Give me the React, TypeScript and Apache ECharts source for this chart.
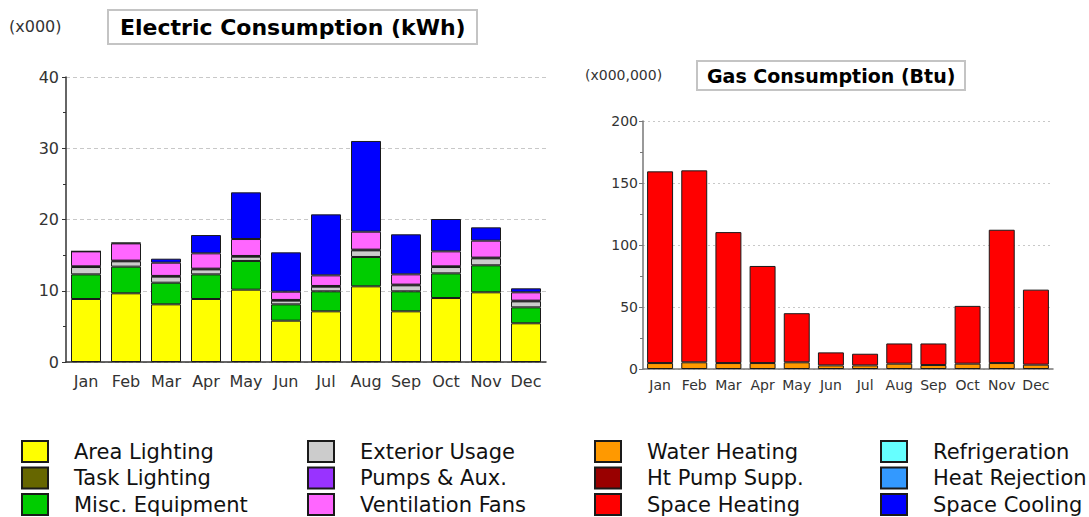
import React, { useEffect, useRef } from "react";
import * as echarts from "echarts";

const months = ["Jan", "Feb", "Mar", "Apr", "May", "Jun", "Jul", "Aug", "Sep", "Oct", "Nov", "Dec"];

// Electric consumption (x000 kWh)
const areaLighting = [8.84, 9.64, 8.09, 8.84, 10.15, 5.8, 7.11, 10.62, 7.11, 8.98, 9.78, 5.43];
const miscEquipment = [3.46, 3.74, 3.04, 3.46, 4.03, 2.29, 2.81, 4.12, 2.81, 3.46, 3.79, 2.24];
const exteriorUsage = [1.03, 0.75, 0.85, 0.7, 0.6, 0.52, 0.65, 0.93, 0.84, 0.89, 0.98, 0.84];
const pumpsAux = [0.1, 0.1, 0.1, 0.1, 0.1, 0.1, 0.1, 0.1, 0.1, 0.1, 0.1, 0.1];
const ventilationFans = [2.1, 2.42, 1.86, 2.15, 2.38, 1.16, 1.49, 2.52, 1.44, 2.1, 2.38, 1.17];
const spaceCooling = [0, 0.1, 0.56, 2.57, 6.55, 5.52, 8.56, 12.73, 5.62, 4.54, 1.87, 0.56];

// Gas consumption (x000,000 Btu)
const waterHeating = [4.8, 5.4, 4.8, 4.8, 5.4, 2.9, 2.9, 4.3, 3.2, 4.3, 4.8, 3.5];
const spaceHeating = [154.6, 154.8, 105.6, 78.3, 39.6, 10.5, 9.4, 16.3, 17.4, 46.6, 107.5, 60.5];

const electricTicks = { min: 0, max: 40, interval: 10 };
const gasTicks = { min: 0, max: 200, interval: 50 };

const colors: Record<string, string> = {
  "Area Lighting": "#FFFF00",
  "Task Lighting": "#666600",
  "Misc. Equipment": "#00CC00",
  "Exterior Usage": "#CCCCCC",
  "Pumps & Aux.": "#9933FF",
  "Ventilation Fans": "#FF66FF",
  "Water Heating": "#FF9900",
  "Ht Pump Supp.": "#990000",
  "Space Heating": "#FF0000",
  "Refrigeration": "#66FFFF",
  "Heat Rejection": "#3399FF",
  "Space Cooling": "#0000FF",
};

const legendCols = [
  ["Area Lighting", "Task Lighting", "Misc. Equipment"],
  ["Exterior Usage", "Pumps & Aux.", "Ventilation Fans"],
  ["Water Heating", "Ht Pump Supp.", "Space Heating"],
  ["Refrigeration", "Heat Rejection", "Space Cooling"],
];
const legendLeft = [21, 307, 594, 880];

const FONT = "DejaVu Sans, Verdana, sans-serif";

export default function App() {
  const ref = useRef<HTMLDivElement>(null);
  useEffect(() => {
    if (!ref.current) return;
    const chart = echarts.init(ref.current, undefined, { renderer: "svg" });

    const barSeries = (name: string, data: number[], idx: number, stack: string) => ({
      name,
      type: "bar",
      stack,
      xAxisIndex: idx,
      yAxisIndex: idx,
      data,
      barCategoryGap: idx === 0 ? "25%" : "24%",
      itemStyle: { color: colors[name], borderColor: "#1a1a1a", borderWidth: 1 },
      emphasis: { disabled: true },
    });

    const catAxis = (gridIndex: number, fontSize: number, margin: number, lineColor: string) => ({
      type: "category",
      gridIndex,
      data: months,
      axisLine: { lineStyle: { color: lineColor, width: 1.5 } },
      axisTick: { alignWithLabel: true, length: 4, lineStyle: { color: lineColor } },
      axisLabel: { fontFamily: FONT, fontSize, color: "#333", margin, interval: 0 },
    });

    const valAxis = (
      gridIndex: number,
      t: { min: number; max: number; interval: number },
      fontSize: number,
      margin: number,
      lineColor: string,
      gridType: any,
    ) => ({
      type: "value",
      gridIndex,
      min: t.min,
      max: t.max,
      interval: t.interval,
      axisLine: { show: true, lineStyle: { color: lineColor, width: 1.5 } },
      axisTick: { show: true, length: 4, lineStyle: { color: lineColor } },
      minorTick: { show: true, splitNumber: 2, length: 3, lineStyle: { color: lineColor } },
      axisLabel: { fontFamily: FONT, fontSize, color: "#333", margin },
      splitLine: { show: true, lineStyle: { color: "#c8c8c8", type: gridType } },
    });

    const option: any = {
      animation: false,
      textStyle: { fontFamily: FONT },
      title: [
        {
          text: "Electric Consumption (kWh)",
          left: 108,
          top: 10,
          padding: [6, 12, 6, 12],
          backgroundColor: "#fff",
          borderColor: "#c4c4c4",
          borderWidth: 2,
          textStyle: { fontFamily: FONT, fontSize: 22, fontWeight: "bold", color: "#000" },
        },
        {
          text: "(x000)",
          left: 9,
          top: 18,
          padding: 0,
          textStyle: { fontFamily: FONT, fontSize: 16, fontWeight: "normal", color: "#333" },
        },
        {
          text: "Gas Consumption (Btu)",
          left: 697,
          top: 61,
          padding: [5, 10, 5, 10],
          backgroundColor: "#fff",
          borderColor: "#c4c4c4",
          borderWidth: 2,
          textStyle: { fontFamily: FONT, fontSize: 19, fontWeight: "bold", color: "#000" },
        },
        {
          text: "(x000,000)",
          left: 585,
          top: 68,
          padding: 0,
          textStyle: { fontFamily: FONT, fontSize: 14, fontWeight: "normal", color: "#333" },
        },
      ],
      legend: legendCols.map((col, i) => ({
        data: col,
        orient: "vertical",
        left: legendLeft[i],
        top: 440,
        height: 90,
        padding: 0,
        icon: "rect",
        itemWidth: 26,
        itemHeight: 21,
        itemGap: 3.5,
        selectedMode: false,
        textStyle: {
          fontFamily: FONT,
          fontSize: 21,
          color: "#111",
          lineHeight: 21,
          padding: [0, 0, 0, 21],
        },
      })),
      grid: [
        { left: 66, top: 77, width: 480, height: 285 },
        { left: 643, top: 121, width: 410, height: 248 },
      ],
      xAxis: [catAxis(0, 16, 11, "#333"), catAxis(1, 14, 9, "#777")],
      yAxis: [
        valAxis(0, electricTicks, 16, 7, "#333", [4, 3]),
        valAxis(1, gasTicks, 14, 5, "#777", [2, 3]),
      ],
      series: [
        barSeries("Area Lighting", areaLighting, 0, "e"),
        barSeries("Task Lighting", [], 0, "e"),
        barSeries("Misc. Equipment", miscEquipment, 0, "e"),
        barSeries("Exterior Usage", exteriorUsage, 0, "e"),
        barSeries("Pumps & Aux.", pumpsAux, 0, "e"),
        barSeries("Ventilation Fans", ventilationFans, 0, "e"),
        barSeries("Refrigeration", [], 0, "e"),
        barSeries("Heat Rejection", [], 0, "e"),
        barSeries("Space Cooling", spaceCooling, 0, "e"),
        barSeries("Water Heating", waterHeating, 1, "g"),
        barSeries("Ht Pump Supp.", [], 1, "g"),
        barSeries("Space Heating", spaceHeating, 1, "g"),
      ],
    };
    chart.setOption(option);
    return () => chart.dispose();
  }, []);

  return (
    <div
      ref={ref}
      style={{ position: "fixed", left: 0, top: 0, width: 1089, height: 560, background: "#fff" }}
    />
  );
}
